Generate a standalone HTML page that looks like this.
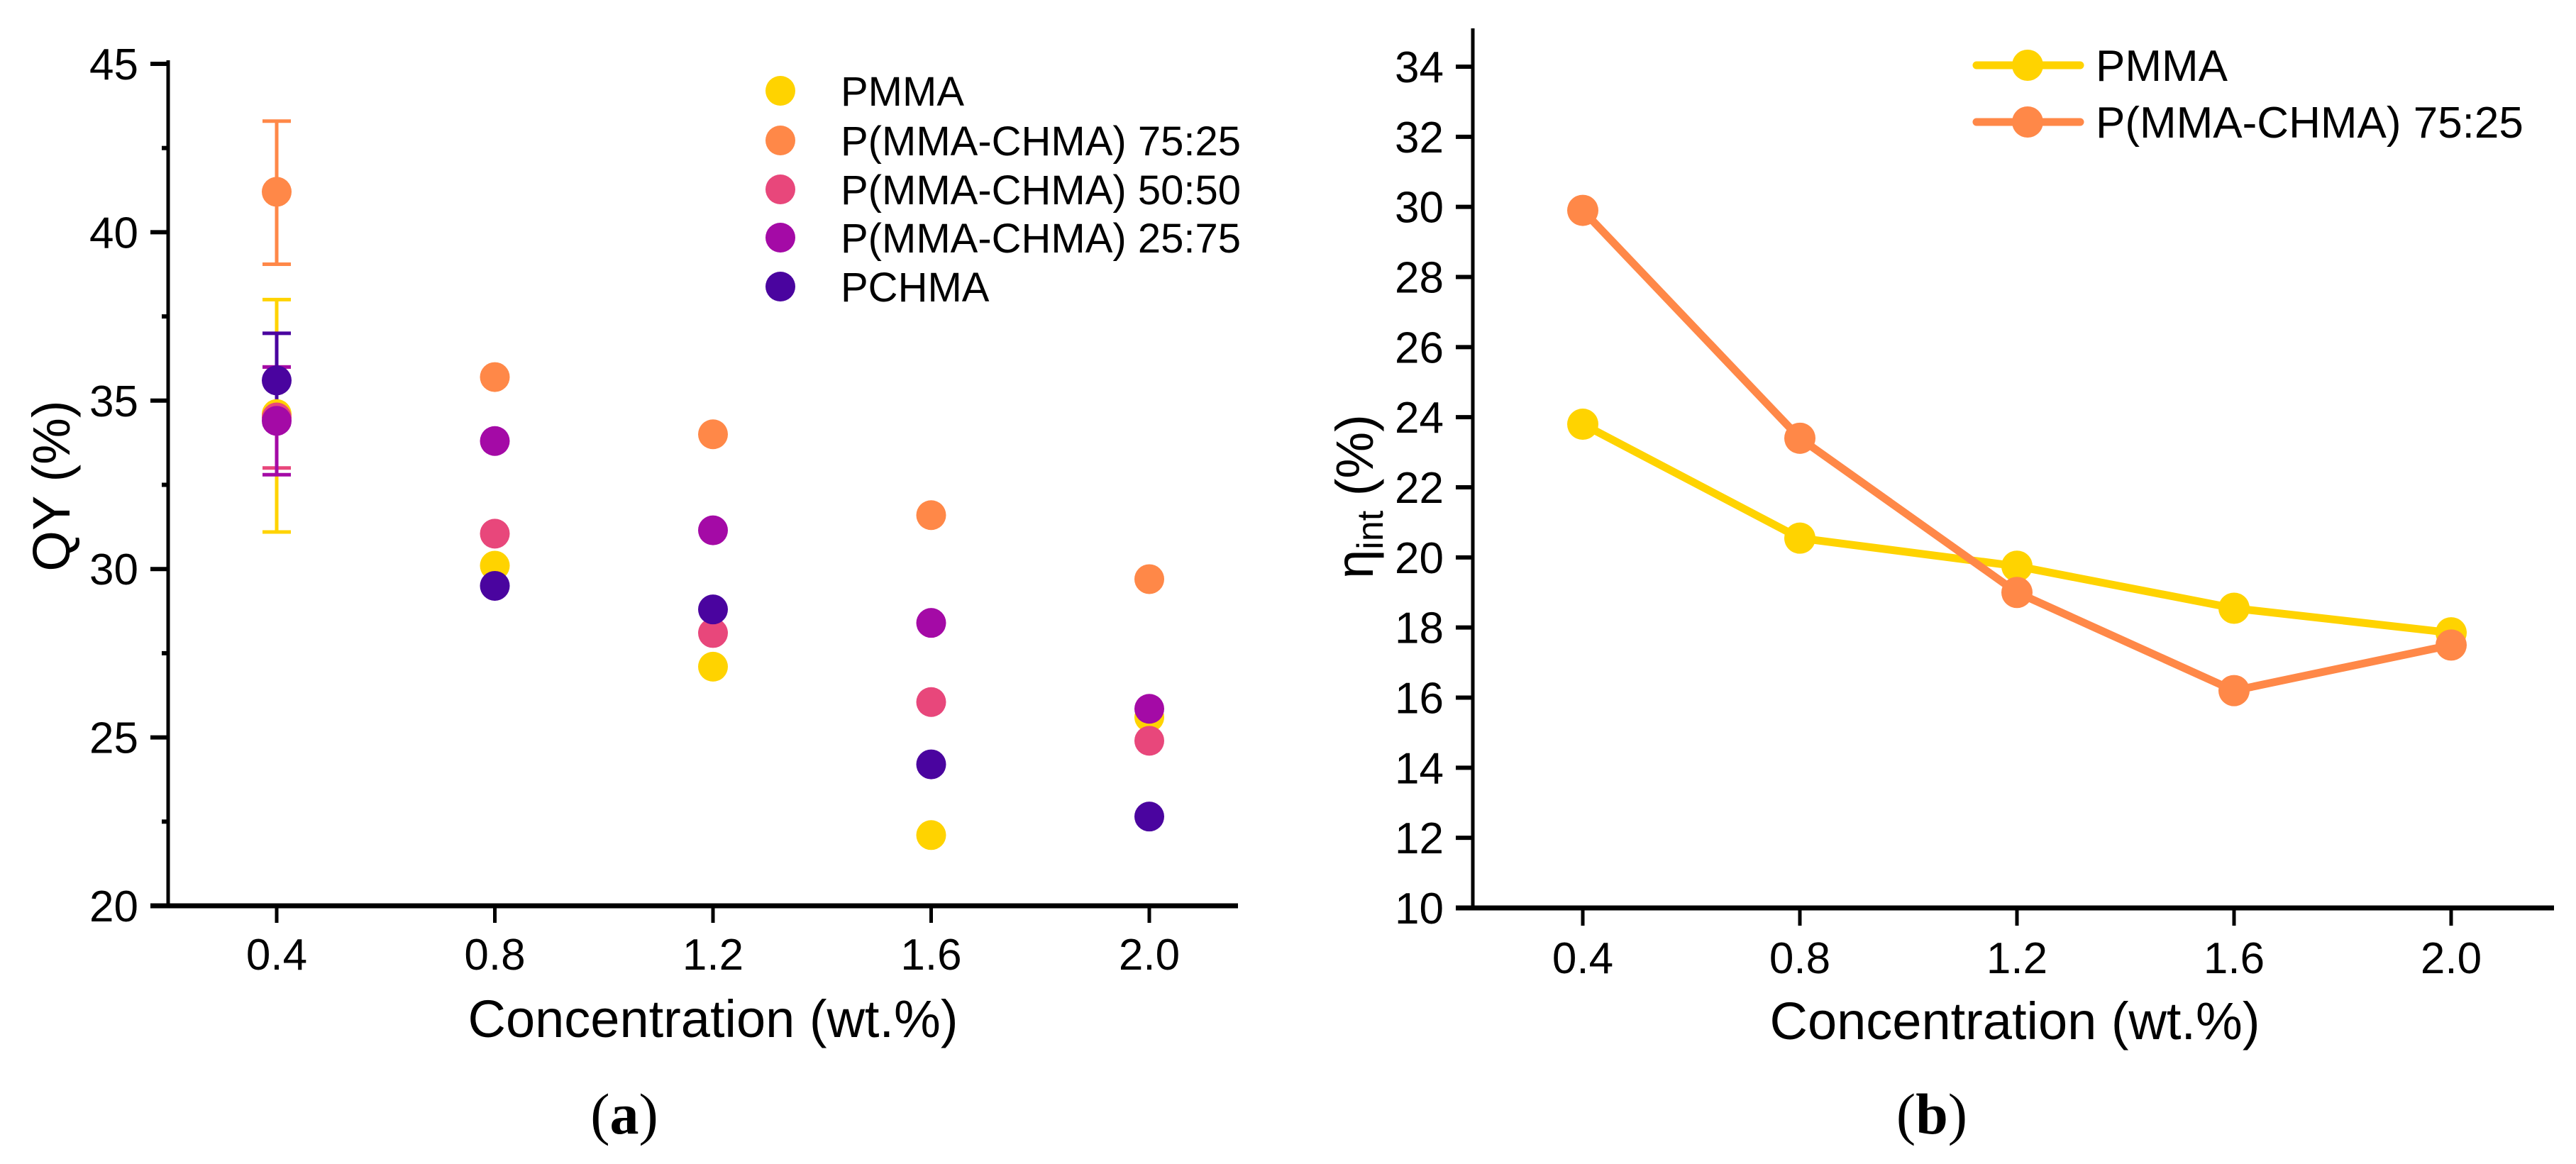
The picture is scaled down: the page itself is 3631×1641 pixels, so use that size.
<!DOCTYPE html>
<html><head><meta charset="utf-8">
<style>
html,body{margin:0;padding:0;background:#fff;}
svg{display:block;font-family:"Liberation Sans",Arial,sans-serif;}
</style></head>
<body>
<svg id="fig" width="3631" height="1641" viewBox="0 0 3631 1641" xmlns="http://www.w3.org/2000/svg">
<g id="chartA"></g>
<g id="chartB"></g>
</svg>
<script>
// ---------- Chart (a) data ----------
const catsA = [0.4, 0.8, 1.2, 1.6, 2.0];
const seriesNamesA = ["PMMA", "P(MMA-CHMA) 75:25", "P(MMA-CHMA) 50:50", "P(MMA-CHMA) 25:75", "PCHMA"];
const pmmaA = [34.6, 30.1, 27.1, 22.1, 25.6];
const m7525A = [41.2, 35.7, 34.0, 31.6, 29.7];
const m5050A = [34.5, 31.05, 28.1, 26.05, 24.9];
const m2575A = [34.4, 33.8, 31.15, 28.4, 25.85];
const pchmaA = [35.6, 29.5, 28.8, 24.2, 22.65];
const errLowA = [[31.1, 39.05, 33.0, 32.8, 34.3]];
const errHighA = [[38.0, 43.3, 36.0, 36.0, 37.0]];
const yTicksA = [20, 25, 30, 35, 40, 45];
const xTickLabels = ["0.4", "0.8", "1.2", "1.6", "2.0"];
// ---------- Chart (b) data ----------
const catsB = [0.4, 0.8, 1.2, 1.6, 2.0];
const pmmaB = [23.8, 20.55, 19.75, 18.55, 17.85];
const m7525B = [29.9, 23.4, 19.0, 16.2, 17.5];
const yTicksB = [10, 12, 14, 16, 18, 20, 22, 24, 26, 28, 30, 32, 34];

const colors = ["#FFD300", "#FF8848", "#E8477B", "#A40AA6", "#4A049F"];
const NS = "http://www.w3.org/2000/svg";
function mk(parent, tag, attrs, text) {
  const e = document.createElementNS(NS, tag);
  for (const k in attrs) e.setAttribute(k, attrs[k]);
  if (text !== undefined) e.textContent = text;
  parent.appendChild(e);
  return e;
}

// ---------- Chart A ----------
(function(){
  const g = document.getElementById('chartA');
  const x = v => 390 + (v - 0.4) / 0.4 * 307.5;
  const y = v => 1277 - (v - 20) / 25 * 1187;
  let e;
  e = mk(g, 'line', {x1:237, y1:85, x2:237, y2:1280, stroke:'#000', 'stroke-width':5});
  
  
  e = mk(g, 'line', {x1:212, y1:1277, x2:1745, y2:1277, stroke:'#000', 'stroke-width':7});
  
  
  yTicksA.forEach(t => {
    mk(g, 'line', {x1:212, y1:y(t), x2:237, y2:y(t), stroke:'#000', 'stroke-width':6});
    e = mk(g, 'text', {x:195, y:y(t)+22, 'font-size':62, 'text-anchor':'end'}, String(t));
    
    
    if (t < 45) mk(g, 'line', {x1:228, y1:y(t+2.5), x2:237, y2:y(t+2.5), stroke:'#000', 'stroke-width':6});
  });
  catsA.forEach((c, i) => {
    mk(g, 'line', {x1:x(c), y1:1277, x2:x(c), y2:1301, stroke:'#000', 'stroke-width':5});
    e = mk(g, 'text', {x:x(c), y:1367, 'font-size':62, 'text-anchor':'middle'}, xTickLabels[i]);
    
    
  });
  e = mk(g, 'text', {x:1005, y:1462, 'font-size':74, 'text-anchor':'middle'}, 'Concentration (wt.%)');
  
  
  e = mk(g, 'text', {x:0, y:0, 'font-size':74, 'text-anchor':'middle', transform:'translate(98,685) rotate(-90)'}, 'QY (%)');
  
  
  e = mk(g, 'text', {x:880, y:1598, 'font-size':82, 'text-anchor':'middle', 'font-family':'"Liberation Serif",serif'});
  e.innerHTML = '(<tspan font-weight="bold">a</tspan>)';
  
  
  const allA = [pmmaA, m7525A, m5050A, m2575A, pchmaA];
  [0,1,2,3,4].forEach(s => {
    const lo = errLowA[0][s], hi = errHighA[0][s], cx = x(catsA[0]);
    const eg = mk(g, 'g', {stroke:colors[s], 'stroke-width':5});
    
    
    mk(eg, 'line', {x1:cx, y1:y(lo), x2:cx, y2:y(hi)});
    mk(eg, 'line', {x1:cx-20, y1:y(lo), x2:cx+20, y2:y(lo)});
    mk(eg, 'line', {x1:cx-20, y1:y(hi), x2:cx+20, y2:y(hi)});
  });
  allA.forEach((arr, s) => {
    arr.forEach((v, i) => {
      const c = mk(g, 'circle', {cx:x(catsA[i]), cy:y(v), r:21, fill:colors[s]});
      
      
    });
  });
  const ys = [128, 198, 267, 335, 404];
  seriesNamesA.forEach((n, s) => {
    const lg = mk(g, 'g', {});
    
    
    mk(lg, 'circle', {cx:1100, cy:ys[s], r:21, fill:colors[s]});
    mk(lg, 'text', {x:1185, y:ys[s]+21, 'font-size':58}, n);
  });
})();

// ---------- Chart B ----------
(function(){
  const g = document.getElementById('chartB');
  const x = v => 2231 + (v - 0.4) / 0.4 * 306;
  const y = v => 1280 - (v - 10) / 24 * 1186;
  let e;
  e = mk(g, 'line', {x1:2076, y1:40, x2:2076, y2:1283, stroke:'#000', 'stroke-width':5});
  
  
  e = mk(g, 'line', {x1:2052, y1:1280, x2:3600, y2:1280, stroke:'#000', 'stroke-width':7});
  
  
  yTicksB.forEach(t => {
    mk(g, 'line', {x1:2052, y1:y(t), x2:2076, y2:y(t), stroke:'#000', 'stroke-width':6});
    e = mk(g, 'text', {x:2035, y:y(t)+22, 'font-size':62, 'text-anchor':'end'}, String(t));
    
    
  });
  catsB.forEach((c, i) => {
    mk(g, 'line', {x1:x(c), y1:1280, x2:x(c), y2:1305, stroke:'#000', 'stroke-width':5});
    e = mk(g, 'text', {x:x(c), y:1372, 'font-size':62, 'text-anchor':'middle'}, xTickLabels[i]);
    
    
  });
  e = mk(g, 'text', {x:2840, y:1465, 'font-size':74, 'text-anchor':'middle'}, 'Concentration (wt.%)');
  
  
  e = mk(g, 'text', {x:0, y:0, 'font-size':74, 'text-anchor':'middle', transform:'translate(1935,700) rotate(-90)'});
  e.innerHTML = 'η<tspan font-size="52" dy="14">int</tspan><tspan dy="-14"> (%)</tspan>';
  
  
  e = mk(g, 'text', {x:2723, y:1598, 'font-size':82, 'text-anchor':'middle', 'font-family':'"Liberation Serif",serif'});
  e.innerHTML = '(<tspan font-weight="bold">b</tspan>)';
  
  
  const series = [pmmaB, m7525B];
  const names = ["PMMA", "P(MMA-CHMA) 75:25"];
  series.forEach((arr, s) => {
    const pts = arr.map((v, i) => x(catsB[i]) + ',' + y(v)).join(' ');
    const pl = mk(g, 'polyline', {points:pts, fill:'none', stroke:colors[s], 'stroke-width':11, 'stroke-linejoin':'round'});
    
    
  });
  series.forEach((arr, s) => {
    arr.forEach((v, i) => {
      const c = mk(g, 'circle', {cx:x(catsB[i]), cy:y(v), r:22, fill:colors[s]});
      
      
    });
  });
  const ly = [92, 172];
  names.forEach((n, s) => {
    const lg = mk(g, 'g', {});
    
    
    mk(lg, 'line', {x1:2786, y1:ly[s], x2:2932, y2:ly[s], stroke:colors[s], 'stroke-width':11, 'stroke-linecap':'round'});
    mk(lg, 'circle', {cx:2858, cy:ly[s], r:22, fill:colors[s]});
    mk(lg, 'text', {x:2954, y:ly[s]+22, 'font-size':62}, n);
  });
})();
</script>
</body></html>
